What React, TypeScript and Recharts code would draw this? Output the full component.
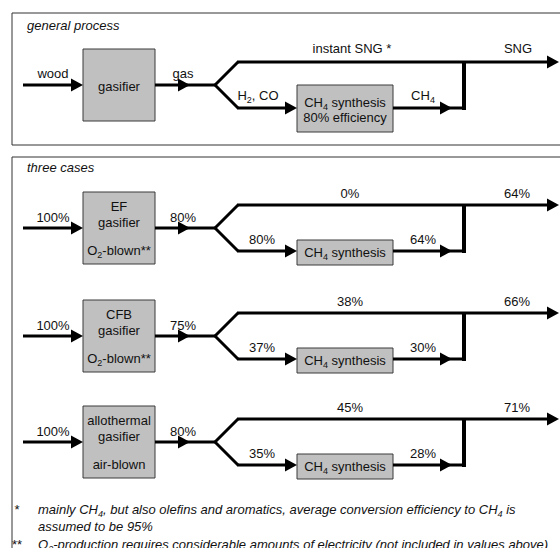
import { ComposedChart, XAxis, YAxis, Scatter, ReferenceArea, ReferenceLine } from 'recharts'

const W = 560
const H = 548

// general process
const generalLabels = { input: 'wood', gas: 'gas', instant: 'instant SNG *', total: 'SNG', toSynth: 'H_{2}, CO', synthOut: 'CH_{4}' }
const generalSynthesis = ['CH_{4} synthesis', '80% efficiency']

// three cases (% of wood energy)
const gasifierNames = ['EF', 'CFB', 'allothermal']
const blowing = ['O_{2}-blown**', 'O_{2}-blown**', 'air-blown']
const feed = [100, 100, 100]
const gasOut = [80, 75, 80]
const toSynthesis = [80, 37, 35]
const instantSng = [0, 38, 45]
const synthesisOut = [64, 30, 28]
const totalSng = [64, 66, 71]

const footnotes = [
  { mark: '*', lines: ['mainly CH_{4}, but also olefins and aromatics, average conversion efficiency to CH_{4} is', 'assumed to be 95%'] },
  { mark: '**', lines: ['O_{2}-production requires considerable amounts of electricity (not included in values above)'] },
]

// layout
const ROW_Y = [85, 228, 336, 442]
const FOOT_Y = [509, 526, 544]
const FONT = "'Liberation Sans', Arial, Helvetica, sans-serif"
const BOX_FILL = '#c0c0c0'
const BOX_STROKE = '#3a3a3a'

type Seg = { x1: number; y1: number; x2: number; y2: number; w: number }
type Txt = { x: number; y: number; text: string; anchor?: string; italic?: boolean }
type Box = { x1: number; x2: number; y1: number; y2: number }

const segs: Seg[] = []
const tips: { x: number; y: number }[] = []
const texts: Txt[] = []
const boxes: Box[] = []

const pct = (v: number) => `${v}%`

ROW_Y.forEach((y, r) => {
  const up = y - 23
  const lo = y + 23
  segs.push({ x1: 23, y1: y, x2: 75, y2: y, w: 3 })
  segs.push({ x1: 155, y1: y, x2: 215, y2: y, w: 3 })
  segs.push({ x1: 215, y1: y, x2: 238, y2: up, w: 3 })
  segs.push({ x1: 215, y1: y, x2: 238, y2: lo, w: 3 })
  segs.push({ x1: 237, y1: up, x2: 550, y2: up, w: 3 })
  segs.push({ x1: 237, y1: lo, x2: 290, y2: lo, w: 3 })
  segs.push({ x1: 393, y1: lo, x2: 466, y2: lo, w: 3 })
  segs.push({ x1: 464, y1: up - 1, x2: 464, y2: lo + 2, w: 4 })
  tips.push({ x: 83, y }, { x: 190, y }, { x: 559, y: up }, { x: 297, y: lo }, { x: 452, y: lo })
  boxes.push({ x1: 83, x2: 155, y1: y - 36, y2: y + 36 })

  if (r === 0) {
    texts.push({ x: 53, y: y - 12, text: generalLabels.input })
    texts.push({ x: 183, y: y - 12, text: generalLabels.gas })
    texts.push({ x: 352, y: up - 14, text: generalLabels.instant })
    texts.push({ x: 518, y: up - 14, text: generalLabels.total })
    texts.push({ x: 258, y: lo - 13, text: generalLabels.toSynth })
    texts.push({ x: 423, y: lo - 13, text: generalLabels.synthOut })
    texts.push({ x: 119, y: y + 1, text: 'gasifier' })
    boxes.push({ x1: 297, x2: 393, y1: lo - 23, y2: lo + 24 })
    texts.push({ x: 345, y: lo - 6, text: generalSynthesis[0] })
    texts.push({ x: 345, y: lo + 9, text: generalSynthesis[1] })
  } else {
    const i = r - 1
    texts.push({ x: 53, y: y - 11, text: pct(feed[i]) })
    texts.push({ x: 183, y: y - 11, text: pct(gasOut[i]) })
    texts.push({ x: 350, y: up - 12, text: pct(instantSng[i]) })
    texts.push({ x: 517, y: up - 12, text: pct(totalSng[i]) })
    texts.push({ x: 262, y: lo - 12, text: pct(toSynthesis[i]) })
    texts.push({ x: 423, y: lo - 12, text: pct(synthesisOut[i]) })
    texts.push({ x: 119, y: y - 22, text: gasifierNames[i] })
    texts.push({ x: 119, y: y - 6, text: 'gasifier' })
    texts.push({ x: 119, y: y + 22, text: blowing[i] })
    boxes.push({ x1: 297, x2: 393, y1: lo - 11, y2: lo + 14 })
    texts.push({ x: 345, y: lo + 1, text: 'CH_{4} synthesis' })
  }
})

texts.push({ x: 27, y: 25, text: 'general process', anchor: 'start', italic: true })
texts.push({ x: 27, y: 167, text: 'three cases', anchor: 'start', italic: true })

let fi = 0
footnotes.forEach((f) => {
  texts.push({ x: 17, y: FOOT_Y[fi], text: f.mark })
  f.lines.forEach((line) => {
    texts.push({ x: 38, y: FOOT_Y[fi], text: line, anchor: 'start', italic: true })
    fi++
  })
})

function RichText(props: any) {
  const { cx, cy, payload } = props
  const parts: string[] = payload.text.split(/_\{([^}]*)\}/)
  return (
    <text
      x={cx}
      y={cy + 4.5}
      textAnchor={payload.anchor || 'middle'}
      fontFamily={FONT}
      fontSize={13}
      fontStyle={payload.italic ? 'italic' : 'normal'}
      fill="#111"
    >
      {parts.map((p, k) =>
        k % 2 === 1 ? (
          <tspan key={k} fontSize={9} dy={3}>{p}</tspan>
        ) : (
          <tspan key={k} dy={k > 0 ? -3 : 0}>{p}</tspan>
        )
      )}
    </text>
  )
}

function ArrowHead(props: any) {
  const { cx, cy } = props
  return <polygon points={`${cx},${cy} ${cx - 12},${cy - 6.5} ${cx - 12},${cy + 6.5}`} fill="#000" />
}

export default function App() {
  return (
    <div style={{ position: 'absolute', left: 0, top: 0, width: W, height: H, background: '#fff' }}>
      <ComposedChart width={W} height={H} margin={{ top: 0, right: 0, bottom: 0, left: 0 }}>
        <XAxis type="number" dataKey="x" domain={[0, W]} hide allowDataOverflow />
        <YAxis type="number" domain={[0, H]} reversed hide allowDataOverflow />
        <ReferenceArea x1={12} x2={566} y1={13} y2={145} fill="none" stroke="#333" strokeWidth={1} ifOverflow="visible" />
        <ReferenceArea x1={12} x2={566} y1={157} y2={560} fill="none" stroke="#333" strokeWidth={1} ifOverflow="visible" />
        {boxes.map((b, i) => (
          <ReferenceArea key={`b-${i}`} x1={b.x1} x2={b.x2} y1={b.y1} y2={b.y2} fill={BOX_FILL} fillOpacity={1} stroke={BOX_STROKE} strokeWidth={1} ifOverflow="visible" />
        ))}
        {segs.map((s, i) => (
          <ReferenceLine
            key={`s-${i}`}
            segment={[{ x: s.x1, y: s.y1 }, { x: s.x2, y: s.y2 }]}
            stroke="#000"
            strokeWidth={s.w}
            ifOverflow="visible"
          />
        ))}
        <Scatter data={tips} dataKey="y" shape={ArrowHead} isAnimationActive={false} />
        <Scatter data={texts} dataKey="y" shape={RichText} isAnimationActive={false} />
      </ComposedChart>
    </div>
  )
}
